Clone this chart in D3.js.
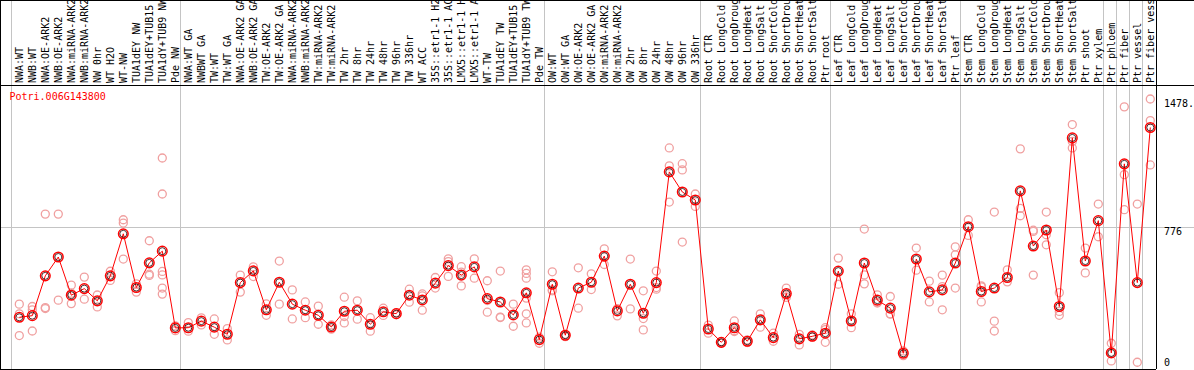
<!DOCTYPE html>
<html>
<head>
<meta charset="utf-8">
<script src="https://cdn.jsdelivr.net/npm/d3@7"></script>
<style>
  body { margin: 0; background: #fff; }
  text { font-family: "DejaVu Sans Mono", monospace; font-size: 10px; }
</style>
</head>
<body>
<div id="chart"></div>
<script>
const geneName = "Potri.006G143800";

const samples = [
    "NWA:WT", "NWB:WT", "NWA:OE-ARK2", "NWB:OE-ARK2", "NWA:miRNA-ARK2", "NWB:miRNA-ARK2",
    "NW 0hr", "WT H2O", "WT-NW", "TUA1dEY NW", "TUA1dEY+TUB15", "TUA1dY+TUB9 NW", "Pde NW",
    "NWA:WT GA", "NWBWT GA", "TW:WT", "TW:WT GA", "NWA:OE-ARK2 GA", "NWB:OE-ARK2 GA",
    "TW:OE-ARK2", "TW:OE-ARK2 GA", "NWA:miRNA-ARK2", "NWB:miRNA-ARK2", "TW:miRNA-ARK2",
    "TW:miRNA-ARK2 GA", "TW 2hr", "TW 8hr", "TW 24hr", "TW 48hr", "TW 96hr", "TW 336hr",
    "WT ACC", "35S::etr1-1 H2O", "35S::etr1-1 ACC", "LMX5::etr1-1 H2O", "LMX5::etr1-1 ACC",
    "WT-TW", "TUA1dEY TW", "TUA1dEY+TUB15 TW", "TUA1dY+TUB9 TW", "Pde TW",
    "OW:WT", "OW:WT GA", "OW:OE-ARK2", "OW:OE-ARK2 GA", "OW:miRNA-ARK2", "OW:miRNA-ARK2 GA",
    "OW 2hr", "OW 8hr", "OW 24hr", "OW 48hr", "OW 96hr", "OW 336hr",
    "Root CTR", "Root LongCold", "Root LongDrought", "Root LongHeat", "Root LongSalt",
    "Root ShortCold", "Root ShortDrought", "Root ShortHeat", "Root ShortSalt", "Ptr root",
    "Leaf CTR", "Leaf LongCold", "Leaf LongDrought", "Leaf LongHeat", "Leaf LongSalt",
    "Leaf ShortCold", "Leaf ShortDrought", "Leaf ShortHeat", "Leaf ShortSalt", "Ptr leaf",
    "Stem CTR", "Stem LongCold", "Stem LongDrought", "Stem LongHeat", "Stem LongSalt",
    "Stem ShortCold", "Stem ShortDrought", "Stem ShortHeat", "Stem ShortSalt", "Ptr shoot", "Ptr xylem",
    "Ptr phloem", "Ptr fiber", "Ptr vessel", "Ptr fiber vessel"
];

// first sample of each block (gray separator drawn before it)
const blockStarts = ["NWA:WT", "NWA:WT GA", "OW:WT", "Root CTR", "Leaf CTR", "Stem CTR",
    "Ptr phloem", "Ptr fiber", "Ptr vessel", "Ptr fiber vessel"];

const means = [
    283, 292, 510, 613, 404, 440, 373, 510, 740, 446, 581, 645, 225,
    226, 262, 229, 190, 473, 537, 324, 475, 355, 322, 294, 230, 316, 322, 245, 313, 303,
    404, 378, 470, 566, 514, 559, 385, 367, 296, 417, 161,
    464, 185, 443, 475, 618, 318, 464, 305, 473, 1079, 969, 925,
    219, 146, 226, 152, 269, 172, 413, 165, 179, 196,
    536, 263, 580, 377, 333, 86, 602, 422, 433, 580,
    779, 424, 443, 501, 975, 673, 761, 342, 1265, 591, 812,
    88, 1123, 473, 1322
];

const replicates = [
    [355, 302, 183], [342, 324, 208], [848, 336, 331], [848, 377], [459, 358, 415], [503, 382],
    [405, 340], [535, 485], [817, 799, 602], [466, 421], [702, 519, 512],
    [1155, 958, 534, 515, 443, 410], [236, 210],
    [254, 207], [280, 241], [274, 190], [221, 159], [514, 421], [559, 506], [356, 294],
    [591, 355], [433, 274], [367, 281], [344, 245], [241, 218], [393, 252, 287], [373, 273],
    [281, 207], [333, 293], [309, 297], [437, 366], [411, 400, 322], [501, 443],
    [603, 588, 507], [560, 530, 455], [603, 497], [483, 311, 375], [536, 284, 282], [355, 234],
    [543, 523, 497, 388, 302, 252], [174, 141],
    [532, 433, 428], [190, 177], [554, 333], [521, 435], [658, 572], [331, 291], [602, 329],
    [428, 276, 214], [536, 437, 446], [1210, 1112, 914], [1124, 1090, 695], [958, 890],
    [240, 196], [150, 142], [263, 205, 210], [159, 145], [302, 229], [196, 152], [443, 404, 392],
    [190, 132], [186, 174], [226, 146, 216],
    [607, 464], [302, 226], [766, 515, 466], [406, 364, 361], [397, 300, 302], [99, 73],
    [662, 541], [481, 367], [514, 451, 324], [669, 625, 443],
    [817, 731], [455, 367, 450], [859, 262, 208], [543, 477], [1205, 879, 839], [760, 753, 514],
    [859, 735, 680], [418, 294, 315], [1338, 1246, 1210], [662, 526], [903, 724],
    [141, 44, 88], [1435, 1064, 872], [903, 37], [1478, 1360, 1117]
];

const width = 1194;
const height = 370;
const headerBottom = 85.5;
const plotBottom = 369;
const plotRight = 1156;

const svg = d3.select("#chart")
    .append("svg")
    .attr("width", width)
    .attr("height", height);

// some sample names repeat, so the scale works on column indices
const x = d3.scalePoint()
    .domain(d3.range(samples.length))
    .range([19.3, 1150.3]);

const maxValue = d3.max(replicates.flat().concat(means));
const yTop = maxValue * 1.05;
const y = d3.scaleLinear()
    .domain([0, yTop])
    .range([plotBottom, headerBottom]);

// gray separators between sample blocks
const sepX = d => Math.round(x(samples.indexOf(d)) - 8.7) + 0.5;
svg.selectAll(".sep")
    .data(blockStarts)
    .enter().append("line")
    .attr("x1", sepX)
    .attr("x2", sepX)
    .attr("y1", 0)
    .attr("y2", plotBottom)
    .attr("stroke", "#c4c4c4");

// middle gridline
svg.append("line")
    .attr("x1", 1).attr("x2", width)
    .attr("y1", Math.round(y(yTop / 2)) + 0.5)
    .attr("y2", Math.round(y(yTop / 2)) + 0.5)
    .attr("stroke", "#c4c4c4");

// frame
const frame = [
    [0, 0.5, width, 0.5],
    [0, headerBottom, width, headerBottom],
    [0, plotBottom + 0.5, plotRight, plotBottom + 0.5],
    [0.5, 0, 0.5, plotBottom],
    [plotRight + 0.5, 0, plotRight + 0.5, plotBottom]
];
svg.selectAll(".frame")
    .data(frame)
    .enter().append("line")
    .attr("x1", d => d[0]).attr("y1", d => d[1])
    .attr("x2", d => d[2]).attr("y2", d => d[3])
    .attr("stroke", "#000");

// sample labels in the header, clipped at the top like the original
svg.append("clipPath").attr("id", "hdr")
    .append("rect").attr("x", 0).attr("y", 1).attr("width", width).attr("height", headerBottom - 1);

svg.append("g")
    .attr("clip-path", "url(#hdr)")
    .selectAll("text")
    .data(samples)
    .enter().append("text")
    .attr("transform", (d, i) => `translate(${x(i) + 0.5},83) rotate(-90)`)
    .attr("dy", "0.36em")
    .attr("fill", "#000")
    .text(d => d);

// replicate points
const reps = [];
samples.forEach((s, i) => replicates[i].forEach(v => reps.push({ i: i, v: v })));

svg.append("g")
    .selectAll("circle")
    .data(reps)
    .enter().append("circle")
    .attr("cx", d => x(d.i))
    .attr("cy", d => y(d.v))
    .attr("r", 4)
    .attr("fill", "none")
    .attr("stroke", "#f0a0a0")
    .attr("stroke-width", 1.3);

// mean line
const line = d3.line()
    .x((d, i) => x(i))
    .y(d => y(d));

svg.append("path")
    .datum(means)
    .attr("d", line)
    .attr("fill", "none")
    .attr("stroke", "#ff0000")
    .attr("stroke-width", 1);

const meanG = svg.append("g")
    .selectAll("g")
    .data(means)
    .enter().append("g")
    .attr("transform", (d, i) => `translate(${x(i)},${y(d)})`);

meanG.append("circle")
    .attr("r", 4.8)
    .attr("fill", "none")
    .attr("stroke", "#ff0000")
    .attr("stroke-width", 1.5);

meanG.append("circle")
    .attr("r", 3.5)
    .attr("fill", "none")
    .attr("stroke", "#200000")
    .attr("stroke-width", 0.8);

// gene name
svg.append("text")
    .attr("x", 9.5)
    .attr("y", 100)
    .attr("fill", "#ff0000")
    .text(geneName);

// value labels on the right
const yLabels = [
    { v: maxValue, t: "1478.", base: "hanging" },
    { v: yTop / 2, t: String(Math.round(yTop / 2)), base: "hanging" },
    { v: 0, t: "0", base: "auto" }
];
svg.selectAll(".ylab")
    .data(yLabels)
    .enter().append("text")
    .attr("x", 1164)
    .attr("y", d => d.v === 0 ? y(0) - 3 : y(d.v) + 1)
    .attr("dominant-baseline", d => d.base)
    .attr("fill", "#000")
    .text(d => d.t);
</script>
</body>
</html>
